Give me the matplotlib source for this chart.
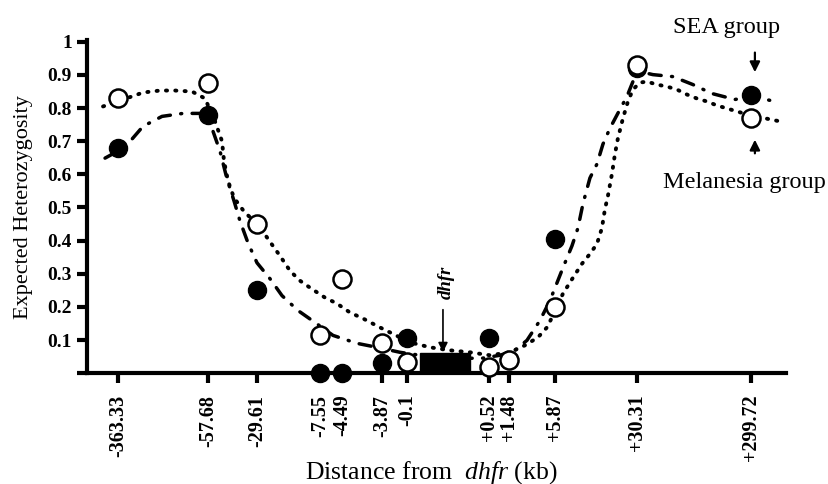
import numpy as np
import matplotlib
matplotlib.use("Agg")
import matplotlib.pyplot as plt
from matplotlib.patches import Rectangle

plt.rcParams['font.family'] = ['Liberation Serif', 'DejaVu Serif']
plt.rcParams['mathtext.fontset'] = 'custom'
plt.rcParams['mathtext.rm'] = 'Liberation Serif'
plt.rcParams['mathtext.it'] = 'Liberation Serif:italic'

# marker positions along the (non-linear) distance axis and their labels
tick_pos = [3.1, 12.1, 17.0, 23.3, 25.5, 29.5, 32.0, 40.2, 42.2, 46.8, 55.0, 66.4]
tick_labels = ['-363.33', '-57.68', '-29.61', '-7.55', '-4.49', '-3.87', '-0.1',
               '+0.52', '+1.48', '+5.87', '+30.31', '+299.72']

# expected heterozygosity
sea = [0.68, 0.78, 0.25, 0.0, 0.0, 0.03, 0.105, 0.105, 0.04, 0.405, 0.92, 0.84]
melanesia = [0.83, 0.877, 0.45, 0.114, 0.285, 0.09, 0.033, 0.02, 0.04, 0.2, 0.93, 0.77]

# trend lines
mel_curve_x = [1.6, 3.9, 5.6, 7.3, 8.8, 10.5, 11.8, 12.8, 13.5, 13.7, 14.1, 14.7, 15.8,
               17.1, 18.1, 19.3, 20.3, 21.3, 22.3, 23.8, 25.0, 26.3, 27.6, 29.3, 30.3,
               32.3, 34.3, 36.3, 38.3, 40.3, 42.3, 43.8, 45.1, 46.0, 46.6, 47.6, 48.6,
               49.5, 50.3, 51.0, 51.5, 51.8, 52.1, 52.5, 52.8, 53.1, 53.6, 54.1, 54.6,
               55.3, 56.0, 57.0, 58.0, 59.0, 60.0, 61.0, 62.0, 63.0, 64.0, 65.0, 66.0,
               67.0, 68.3, 69.3]
mel_curve_y = [0.805, 0.829, 0.847, 0.853, 0.853, 0.850, 0.829, 0.760, 0.700, 0.640,
               0.580, 0.529, 0.484, 0.450, 0.405, 0.354, 0.309, 0.279, 0.258, 0.228,
               0.210, 0.183, 0.165, 0.138, 0.123, 0.093, 0.078, 0.069, 0.063, 0.054,
               0.063, 0.084, 0.108, 0.138, 0.174, 0.240, 0.288, 0.330, 0.360, 0.390,
               0.438, 0.495, 0.535, 0.601, 0.661, 0.709, 0.769, 0.820, 0.856, 0.877,
               0.880, 0.871, 0.865, 0.856, 0.841, 0.829, 0.820, 0.808, 0.799, 0.790,
               0.781, 0.775, 0.766, 0.760]

sea_curve_x = [1.8, 3.8, 5.6, 7.5, 9.6, 12.0, 12.6, 13.3, 14.0, 14.7, 15.3, 16.1, 17.0,
               18.3, 19.5, 21.1, 22.8, 24.6, 27.0, 29.0, 31.3, 33.3, 35.3, 37.3, 39.5,
               41.3, 42.8, 44.0, 45.3, 46.3, 47.6, 48.5, 49.1, 49.6, 50.3, 51.0, 51.6,
               52.3, 53.3, 54.0, 54.6, 55.3, 56.6, 58.6, 60.6, 62.5, 64.8, 66.6, 68.8]
sea_curve_y = [0.649, 0.682, 0.745, 0.775, 0.784, 0.784, 0.730, 0.670, 0.586, 0.520,
               0.459, 0.393, 0.333, 0.285, 0.234, 0.189, 0.153, 0.114, 0.090, 0.078,
               0.063, 0.054, 0.048, 0.045, 0.045, 0.054, 0.069, 0.099, 0.159, 0.219,
               0.318, 0.384, 0.438, 0.511, 0.589, 0.631, 0.691, 0.739, 0.796, 0.835,
               0.880, 0.910, 0.901, 0.895, 0.871, 0.844, 0.826, 0.835, 0.820]

fig = plt.figure(figsize=(8.29, 4.84), dpi=100)
ax = fig.add_axes([0.105, 0.229, 0.843, 0.688])

ax.plot(mel_curve_x, mel_curve_y, color='black', lw=2.8,
        linestyle=(0, (0.3, 2.1)), dash_capstyle='round', zorder=2)
ax.plot(sea_curve_x, sea_curve_y, color='black', lw=2.5,
        linestyle=(0, (3.5, 3.0, 0.3, 3.0)), dash_capstyle='round', zorder=2)

ax.plot(tick_pos, sea, 'o', color='black', ms=13, linestyle='none', zorder=3, clip_on=False)
ax.plot(tick_pos, melanesia, 'o', mfc='white', mec='black', mew=1.8, ms=13,
        linestyle='none', zorder=4, clip_on=False)

# dhfr gene box and pointer
ax.add_patch(Rectangle((33.3, 0), 5.0, 0.06, color='black', zorder=3))
ax.annotate('', xy=(35.6, 0.055), xytext=(35.6, 0.2),
            arrowprops=dict(arrowstyle='-|>', color='black', lw=1.2, mutation_scale=14))
ax.text(35.9, 0.273, 'dhfr', rotation=90, ha='center', va='center',
        fontsize=13.5, fontweight='bold', style='italic')

# group labels
ax.annotate('', xy=(66.8, 0.90), xytext=(66.8, 0.976),
            arrowprops=dict(arrowstyle='-|>', color='black', lw=1.6, mutation_scale=15),
            annotation_clip=False)
ax.text(58.6, 1.027, 'SEA group', ha='left', va='baseline', fontsize=17.5)
ax.annotate('', xy=(66.8, 0.713), xytext=(66.8, 0.655),
            arrowprops=dict(arrowstyle='-|>', color='black', lw=1.6, mutation_scale=15))
ax.text(57.6, 0.56, 'Melanesia group', ha='left', va='baseline', fontsize=17.5)

ax.set_xlim(0, 69.9)
ax.set_ylim(0, 1.005)
ax.set_xticks(tick_pos)
ax.set_xticklabels(tick_labels, rotation=90, fontsize=14.5, fontweight='bold')
ax.set_yticks(np.arange(0, 1.01, 0.1))
ax.set_yticklabels([''] + ['%g' % v for v in np.arange(0.1, 1.01, 0.1)],
                   fontsize=14, fontweight='bold')
ax.tick_params(axis='both', direction='out', width=3, length=7, pad=4)
ax.tick_params(axis='x', pad=8.5)

for s in ['top', 'right']:
    ax.spines[s].set_visible(False)
for s in ['left', 'bottom']:
    ax.spines[s].set_linewidth(3)

ax.set_ylabel('Expected Heterozygosity', fontsize=16)
ax.yaxis.set_label_coords(-0.077, 0.5)
fig.text(0.52, 0.012, 'Distance from  $\\it{dhfr}$ (kb)', fontsize=18.5,
         ha='center', va='baseline')

fig.savefig('out.png', dpi=100)
